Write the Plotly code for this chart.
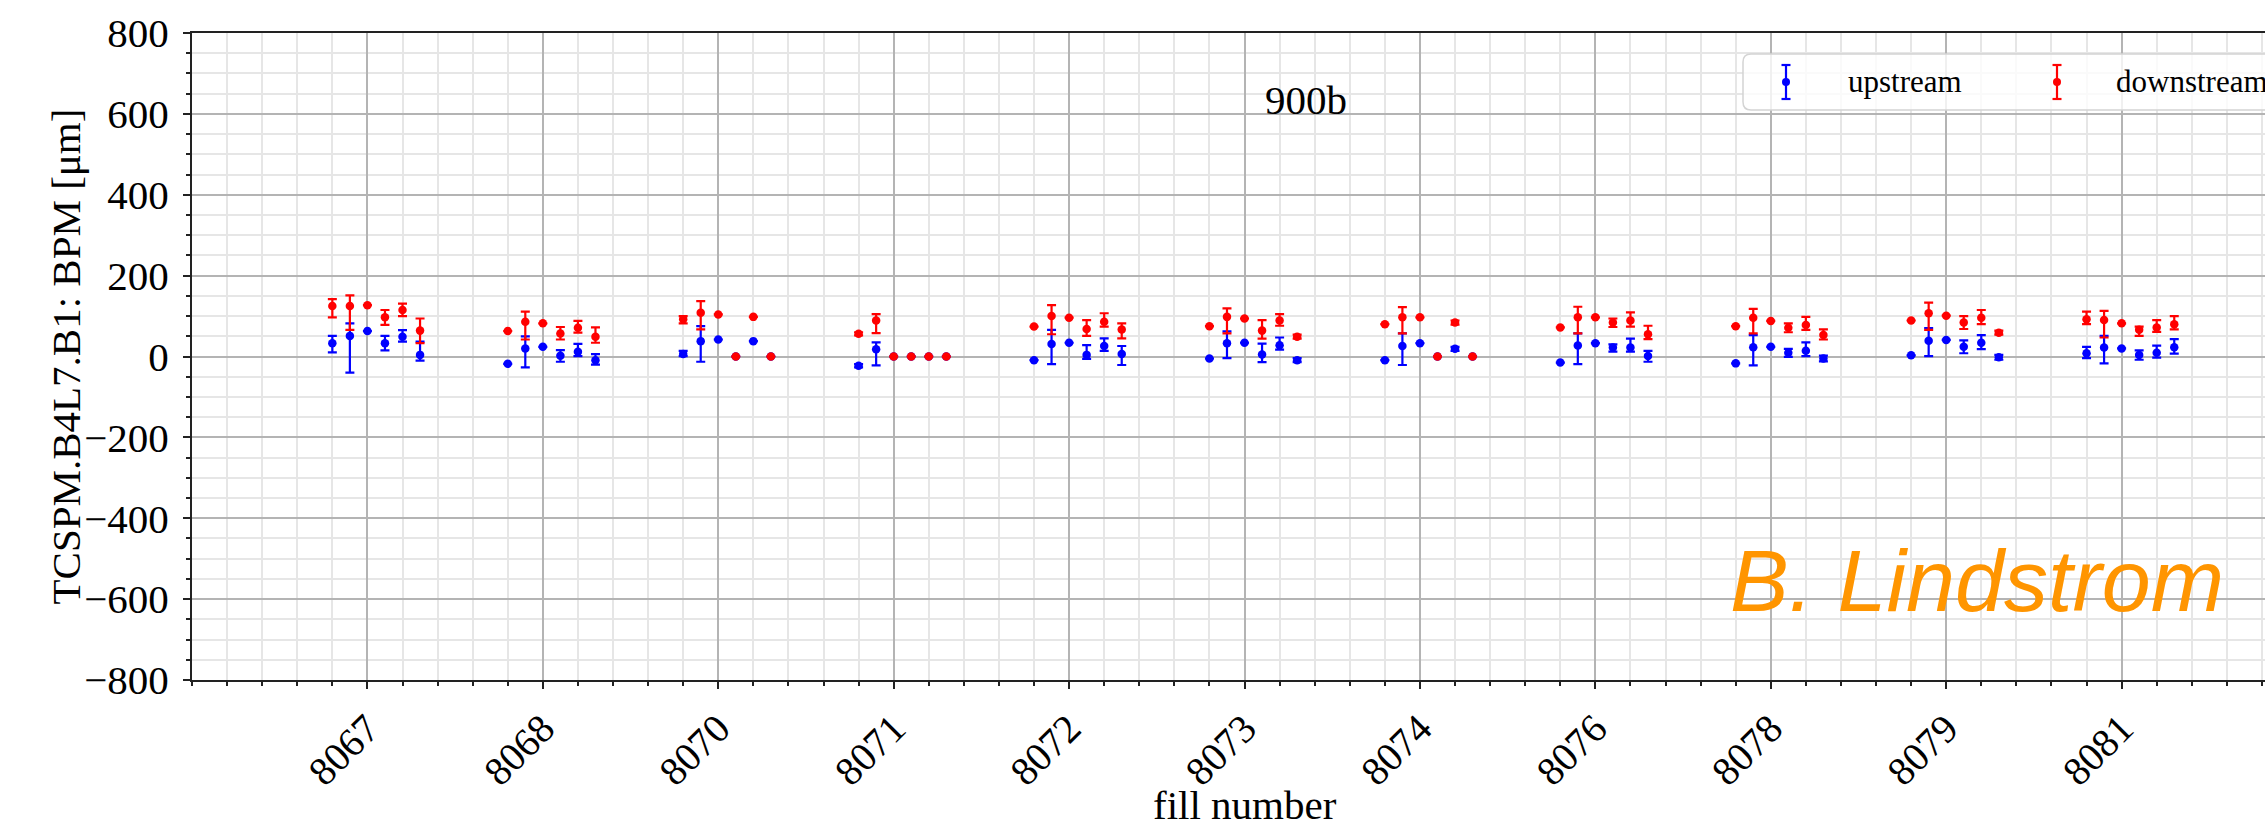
import plotly.graph_objects as go

fills = ["8067", "8068", "8070", "8071", "8072", "8073", "8074", "8076", "8078", "8079", "8081"]
offsets = [-0.2, -0.1, 0.0, 0.1, 0.2, 0.3]

up_val = [[33, 51, 63, 33, 49, 4], [-18, 20, 24, 2, 12, -9], [6, 38, 42, 0, 38, 0],
          [-23, 18, 0, 0, 0, 0], [-9, 31, 34, 4, 26, 6], [-5, 33, 34, 5, 28, -9],
          [-9, 26, 33, 0, 19, 0], [-15, 27, 33, 22, 22, 1], [-17, 23, 24, 9, 14, -5],
          [3, 39, 41, 24, 34, -2], [8, 22, 20, 4, 9, 23]]
up_plus = [[18, 31, 0, 18, 16, 33], [0, 30, 0, 14, 19, 15], [8, 37, 0, 0, 0, 0],
           [4, 17, 0, 0, 0, 0], [0, 35, 0, 24, 19, 20], [0, 29, 0, 27, 19, 5],
           [0, 31, 0, 0, 5, 0], [0, 30, 0, 8, 22, 13], [0, 30, 0, 10, 21, 7],
           [0, 31, 0, 16, 19, 6], [16, 29, 0, 11, 18, 20]]
up_minus = [[23, 91, 0, 18, 12, 14], [0, 47, 0, 15, 11, 11], [5, 51, 0, 0, 0, 0],
            [4, 40, 0, 0, 0, 0], [0, 50, 0, 10, 12, 27], [0, 37, 0, 19, 11, 5],
            [0, 47, 0, 0, 5, 0], [0, 46, 0, 10, 10, 14], [0, 45, 0, 10, 13, 7],
            [0, 38, 0, 16, 16, 6], [12, 39, 0, 12, 12, 16]]

down_val = [[125, 125, 127, 97, 115, 64], [63, 86, 82, 57, 71, 49], [92, 108, 104, 0, 98, 0],
            [56, 89, 0, 0, 0, 0], [74, 100, 96, 68, 86, 67], [75, 98, 94, 64, 89, 49],
            [80, 97, 97, 0, 84, 0], [72, 97, 97, 84, 89, 55], [75, 96, 88, 71, 78, 53],
            [89, 107, 101, 84, 96, 59], [92, 90, 82, 66, 72, 80]]
down_plus = [[17, 26, 0, 18, 16, 30], [0, 25, 0, 16, 17, 23], [8, 29, 0, 0, 0, 0],
             [4, 16, 0, 0, 0, 0], [0, 27, 0, 22, 21, 15], [0, 21, 0, 26, 16, 5],
             [0, 25, 0, 0, 5, 0], [0, 26, 0, 10, 20, 21], [0, 22, 0, 11, 20, 14],
             [0, 26, 0, 16, 19, 5], [19, 23, 0, 8, 18, 20]]
down_minus = [[28, 59, 0, 19, 15, 31], [0, 44, 0, 15, 12, 15], [10, 41, 0, 0, 0, 0],
              [4, 31, 0, 0, 0, 0], [0, 45, 0, 17, 12, 22], [0, 41, 0, 20, 13, 5],
              [0, 40, 0, 0, 5, 0], [0, 40, 0, 11, 15, 12], [0, 39, 0, 11, 12, 11],
              [0, 41, 0, 16, 16, 5], [12, 43, 0, 15, 11, 13]]

series = [
    ("upstream", "#0000ff", up_val, up_plus, up_minus),
    ("downstream", "#ff0000", down_val, down_plus, down_minus),
]

W, H = 2265, 828
L, T, B = 192, 33, 148
PW, PH = W - L, H - T - B
SERIF = "Liberation Serif"


def px(x):
    return (x - L) / PW


def py(y):
    return (H - B - y) / PH


fig = go.Figure()
for name, color, vals, plus, minus in series:
    xs, ys, ep, em = [], [], [], []
    for i in range(len(fills)):
        for j, off in enumerate(offsets):
            xs.append(i + off)
            ys.append(vals[i][j])
            ep.append(plus[i][j])
            em.append(minus[i][j])
    fig.add_trace(go.Scatter(
        x=xs, y=ys, mode="markers", name=name, showlegend=False,
        marker=dict(color=color, size=8.5),
        error_y=dict(type="data", symmetric=False, array=ep, arrayminus=em,
                     color=color, thickness=2.2, width=4.5),
    ))

x_right = -1 + PW / 175.42

fig.update_layout(
    width=W, height=H,
    margin=dict(l=L, r=0, t=T, b=B, pad=0),
    paper_bgcolor="white", plot_bgcolor="white",
    font=dict(family=SERIF, size=41, color="black"),
    xaxis=dict(
        range=[-1, x_right], tickmode="array", tickvals=list(range(len(fills))), ticktext=fills,
        tickangle=-45, ticks="outside", ticklen=7, tickwidth=2, tickcolor="#222",
        showline=True, linecolor="#222", linewidth=2, mirror=True,
        showgrid=True, gridcolor="#b4b4b4", gridwidth=2, zeroline=False,
        minor=dict(dtick=0.2, tick0=0, ticks="outside", ticklen=4, tickwidth=1.5,
                   tickcolor="#222", showgrid=True, gridcolor="#e6e6e6", gridwidth=1.5),
        tickfont=dict(family=SERIF, size=40, color="black"),
    ),
    yaxis=dict(
        range=[-800, 800], tickmode="linear", tick0=0, dtick=200,
        ticks="outside", ticklen=7, tickwidth=2, tickcolor="#222",
        showline=True, linecolor="#222", linewidth=2, mirror=False,
        showgrid=True, gridcolor="#b4b4b4", gridwidth=2, zeroline=False,
        minor=dict(dtick=50, tick0=0, ticks="outside", ticklen=4, tickwidth=1.5,
                   tickcolor="#222", showgrid=True, gridcolor="#e6e6e6", gridwidth=1.5),
        tickfont=dict(family=SERIF, size=41, color="black"), ticklabelstandoff=6,
    ),
)

annotations = [
    dict(text="fill number", xref="x", yref="paper", x=5, y=py(805), xanchor="center",
         yanchor="middle", showarrow=False, font=dict(family=SERIF, size=41)),
    dict(text="TCSPM.B4L7.B1: BPM [μm]", xref="paper", yref="paper", x=px(65), y=0.5,
         xanchor="center", yanchor="middle", textangle=-90, showarrow=False,
         font=dict(family=SERIF, size=41)),
    dict(text="900b", xref="paper", yref="paper", x=px(1306), y=py(100), xanchor="center",
         yanchor="middle", showarrow=False, font=dict(family=SERIF, size=41)),
    dict(text="<i>B. Lindstrom</i>", xref="paper", yref="paper", x=px(1728), y=py(580),
         xanchor="left", yanchor="middle", showarrow=False,
         font=dict(family="Liberation Sans", size=88, color="#ff9500")),
    dict(text="upstream", xref="paper", yref="paper", x=px(1846), y=py(82), xanchor="left",
         yanchor="middle", showarrow=False, font=dict(family=SERIF, size=31)),
    dict(text="downstream", xref="paper", yref="paper", x=px(2114), y=py(82), xanchor="left",
         yanchor="middle", showarrow=False, font=dict(family=SERIF, size=31)),
]
fig.update_layout(annotations=annotations)

# legend frame (rounded left corners, cut by the page edge on the right as in the original)
x0, x1, y0, y1, r = 1743, 2320, 54, 110, 8
path = (f"M {px(x0 + r)},{py(y0)} L {px(x1)},{py(y0)} L {px(x1)},{py(y1)} "
        f"L {px(x0 + r)},{py(y1)} Q {px(x0)},{py(y1)} {px(x0)},{py(y1 - r)} "
        f"L {px(x0)},{py(y0 + r)} Q {px(x0)},{py(y0)} {px(x0 + r)},{py(y0)} Z")
shapes = [dict(type="path", xref="paper", yref="paper", path=path,
               fillcolor="rgba(255,255,255,0.8)", line=dict(color="#d4d4d4", width=1.5),
               layer="above")]
for gx, color in [(1786, "#0000ff"), (2057, "#ff0000")]:
    shapes.append(dict(type="line", xref="paper", yref="paper", x0=px(gx), x1=px(gx),
                       y0=py(65), y1=py(99), line=dict(color=color, width=2.2), layer="above"))
    for cy in (65, 99):
        shapes.append(dict(type="line", xref="paper", yref="paper", x0=px(gx - 4.5), x1=px(gx + 4.5),
                           y0=py(cy), y1=py(cy), line=dict(color=color, width=2.2), layer="above"))
    shapes.append(dict(type="circle", xref="paper", yref="paper", x0=px(gx - 4), x1=px(gx + 4),
                       y0=py(86), y1=py(78), fillcolor=color, line=dict(width=0), layer="above"))
fig.update_layout(shapes=shapes)

fig.write_html("out.html")
